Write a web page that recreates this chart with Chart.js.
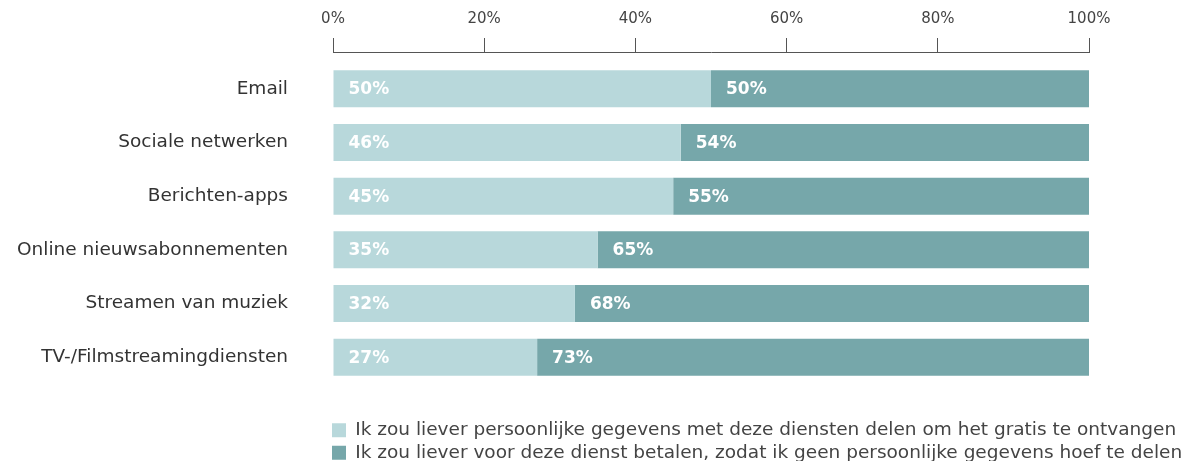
<!DOCTYPE html>
<html>
<head>
<meta charset="utf-8">
<script src="https://cdn.jsdelivr.net/npm/chart.js@4"></script>
<style>
  html, body { margin: 0; padding: 0; background: #fff; }
  #wrap { width: 1194px; height: 461px; position: relative; }
</style>
</head>
<body>
<div id="wrap"><canvas id="grafiek"></canvas></div>
<script>
const categories = ['Email', 'Sociale netwerken', 'Berichten-apps', 'Online nieuwsabonnementen', 'Streamen van muziek', 'TV-/Filmstreamingdiensten'];
const gratis = [50, 46, 45, 35, 32, 27];
const betalen = [50, 54, 55, 65, 68, 73];
const seriesLabels = [
    'Ik zou liever persoonlijke gegevens met deze diensten delen om het gratis te ontvangen',
    'Ik zou liever voor deze dienst betalen, zodat ik geen persoonlijke gegevens hoef te delen'
];
const xTicks = [0, 20, 40, 60, 80, 100];

// waarden in witte letters aan de linkerkant van elk balkdeel
const valueLabels = {
    id: 'valueLabels',
    afterDatasetsDraw(chart) {
        const ctx = chart.ctx;
        ctx.save();
        ctx.font = 'bold 17px "DejaVu Sans"';
        ctx.fillStyle = '#ffffff';
        ctx.textAlign = 'left';
        ctx.textBaseline = 'middle';
        chart.data.datasets.forEach((ds, d) => {
            chart.getDatasetMeta(d).data.forEach((bar, i) => {
                const p = bar.getProps(['x', 'y', 'base'], true);
                ctx.fillText(ds.data[i] + '%', Math.min(p.x, p.base) + 15, p.y + 1);
            });
        });
        ctx.restore();
    }
};

// legenda mag tot de rechterrand doorlopen (anders wordt de tekst afgeknipt)
const widenLegend = {
    id: 'widenLegend',
    afterLayout(chart) {
        const lg = chart.legend;
        if (!lg) return;
        lg.left -= 5;
        lg.right = chart.width;
        lg.width = lg.right - lg.left;
    }
};

document.addEventListener('DOMContentLoaded', function () {
    const ctx = document.getElementById('grafiek').getContext('2d');
    new Chart(ctx, {
        type: 'bar',
        data: {
            labels: categories,
            datasets: [
                {
                    label: seriesLabels[0],
                    data: gratis,
                    backgroundColor: '#b8d8db',
                    borderWidth: 0,
                    barPercentage: 0.69,
                    categoryPercentage: 1
                },
                {
                    label: seriesLabels[1],
                    data: betalen,
                    backgroundColor: '#76a7aa',
                    borderWidth: 0,
                    barPercentage: 0.69,
                    categoryPercentage: 1
                }
            ]
        },
        options: {
            indexAxis: 'y',
            responsive: true,
            maintainAspectRatio: false,
            animation: false,
            layout: { padding: { top: 0, right: 105, bottom: -11, left: 0 } },
            scales: {
                x: {
                    position: 'top',
                    stacked: true,
                    min: 0,
                    max: 100,
                    weight: 1,
                    afterBuildTicks: s => { s.ticks = xTicks.map(v => ({ value: v })); },
                    afterFit: s => { s.height = 52; },
                    ticks: {
                        callback: v => v + '%',
                        color: '#444',
                        padding: 10,
                        font: { family: '"DejaVu Sans"', size: 15 }
                    },
                    grid: { drawOnChartArea: false, tickLength: 14, color: '#555' },
                    border: { display: true, color: '#555' }
                },
                spacerTop: {
                    type: 'linear',
                    position: 'top',
                    weight: 0,
                    ticks: { display: false },
                    grid: { display: false },
                    border: { display: false },
                    afterFit: s => { s.height = 10; }
                },
                spacerBottom: {
                    type: 'linear',
                    position: 'bottom',
                    weight: 0,
                    ticks: { display: false },
                    grid: { display: false },
                    border: { display: false },
                    afterFit: s => { s.height = 33; }
                },
                y: {
                    stacked: true,
                    afterFit: s => { s.width = 333; },
                    ticks: {
                        color: '#333',
                        padding: 45,
                        font: { family: '"DejaVu Sans"', size: 18.5 }
                    },
                    grid: { display: false, drawTicks: false },
                    border: { display: false }
                }
            },
            plugins: {
                legend: {
                    position: 'bottom',
                    align: 'start',
                    fullSize: false,
                    labels: {
                        boxWidth: 14,
                        boxHeight: 14,
                        padding: 4,
                        color: '#444',
                        font: { family: '"DejaVu Sans"', size: 18.5 }
                    }
                },
                tooltip: { enabled: false }
            }
        },
        plugins: [valueLabels, widenLegend]
    });
});
</script>
</body>
</html>
